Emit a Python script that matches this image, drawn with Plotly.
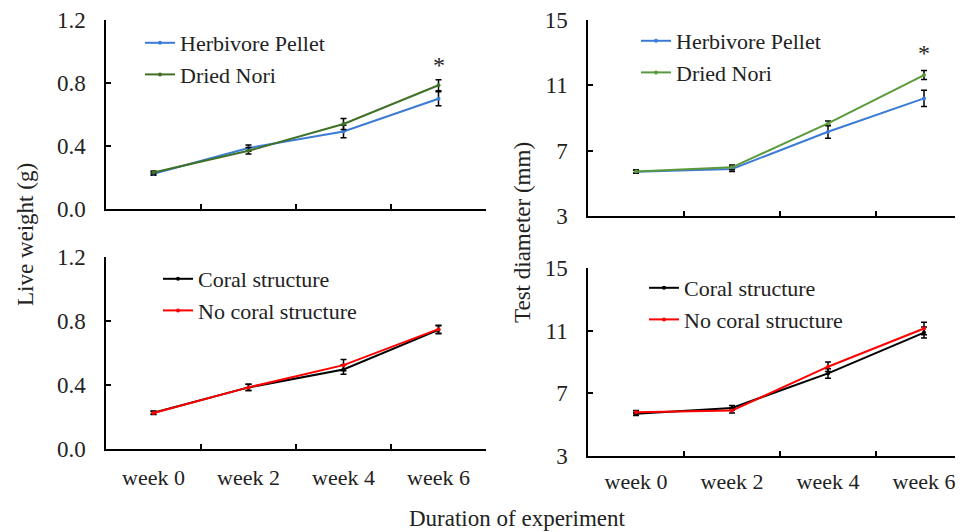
import plotly.graph_objects as go

weeks = ["week 0", "week 2", "week 4", "week 6"]

# Diet experiment - live weight (g)
lw_pellet = [0.224, 0.387, 0.492, 0.700]
lw_pellet_err = [0.010, 0.020, 0.040, 0.045]
lw_nori = [0.232, 0.370, 0.540, 0.786]
lw_nori_err = [0.010, 0.020, 0.035, 0.035]

# Diet experiment - test diameter (mm)
td_pellet = [5.71, 5.88, 8.16, 10.20]
td_pellet_err = [0.10, 0.15, 0.40, 0.50]
td_nori = [5.72, 5.98, 8.67, 11.63]
td_nori_err = [0.10, 0.15, 0.15, 0.28]

# Habitat experiment - live weight (g)
lw_coral = [0.227, 0.385, 0.497, 0.745]
lw_coral_err = [0.010, 0.020, 0.030, 0.025]
lw_nocoral = [0.225, 0.385, 0.524, 0.749]
lw_nocoral_err = [0.010, 0.020, 0.035, 0.025]

# Habitat experiment - test diameter (mm)
td_coral = [5.69, 6.07, 8.27, 10.88]
td_coral_err = [0.10, 0.15, 0.30, 0.35]
td_nocoral = [5.80, 5.90, 8.70, 11.14]
td_nocoral_err = [0.10, 0.15, 0.30, 0.40]

lw_ticks = [0.0, 0.4, 0.8, 1.2]
td_ticks = [3, 7, 11, 15]

FONT = "Liberation Serif"
BLUE = "#3b7bd6"
GREEN_L = "#3f7126"
GREEN_R = "#5b9a3c"
BLACK = "#000000"
RED = "#ff0000"

fig = go.Figure()

def add(y, err, name, color, xa, ya, legend):
    fig.add_trace(go.Scatter(
        x=weeks, y=y, name=name, mode="lines+markers",
        line=dict(color=color, width=2),
        marker=dict(color=color, size=4),
        error_y=dict(type="data", array=err, visible=True, color="black",
                     thickness=1.5, width=3),
        xaxis=xa, yaxis=ya, legend=legend,
    ))

add(lw_pellet, lw_pellet_err, "Herbivore Pellet", BLUE, "x", "y", "legend")
add(lw_nori, lw_nori_err, "Dried Nori", GREEN_L, "x", "y", "legend")
add(td_pellet, td_pellet_err, "Herbivore Pellet", BLUE, "x2", "y2", "legend2")
add(td_nori, td_nori_err, "Dried Nori", GREEN_R, "x2", "y2", "legend2")
add(lw_coral, lw_coral_err, "Coral structure", BLACK, "x3", "y3", "legend3")
add(lw_nocoral, lw_nocoral_err, "No coral structure", RED, "x3", "y3", "legend3")
add(td_coral, td_coral_err, "Coral structure", BLACK, "x4", "y4", "legend4")
add(td_nocoral, td_nocoral_err, "No coral structure", RED, "x4", "y4", "legend4")

OFF = 8  # page body margin
W, H = 963 - OFF, 532 - OFF
def px(x):
    return (x - OFF) / W
def py(y):
    return 1 - (y - OFF) / H

tickfont = dict(family=FONT, size=22, color="#222")
ytickfont = dict(family=FONT, size=23, color="#222")

def xaxis(dom, rng, labels, standoff=0):
    return dict(domain=dom, range=rng, type="category", showline=True,
                linecolor="black", linewidth=1.5, ticks="inside", ticklen=5,
                tickwidth=1.5, tickcolor="black", tickson="boundaries",
                showgrid=False, zeroline=False, showticklabels=labels,
                tickfont=tickfont, fixedrange=True, automargin=False,
                ticklabeloverflow="allow", ticklabelstandoff=standoff)

def yaxis(dom, rng, tv, fmt):
    return dict(domain=dom, range=rng, tickvals=tv, tickformat=fmt,
                showline=True, linecolor="black", linewidth=1.5,
                ticks="inside", ticklen=5, tickwidth=1.5, tickcolor="black",
                showgrid=False, zeroline=False, tickfont=ytickfont,
                ticklabelstandoff=14, automargin=False, ticklabeloverflow="allow")

legfont = dict(family=FONT, size=22, color="#222")
def legend(x, y):
    return dict(x=x, y=y, xanchor="left", yanchor="top", font=legfont,
                bgcolor="rgba(0,0,0,0)", itemwidth=30, tracegroupgap=0,
                traceorder="normal", itemclick=False)

def ann(text, x, y, size=23, angle=0):
    return dict(text=text, x=px(x), y=py(y), xref="paper", yref="paper",
                xanchor="center", yanchor="middle", textangle=angle,
                showarrow=False, font=dict(family=FONT, size=size, color="#222"))

fig.update_layout(
    width=W, height=H, margin=dict(l=0, r=0, t=0, b=0, pad=0, autoexpand=False),
    plot_bgcolor="white", paper_bgcolor="white", showlegend=True,
    font=dict(family=FONT, size=22, color="#222"),
    xaxis=xaxis([px(106), px(486)], [-0.5, 3.5], False),
    yaxis=yaxis([py(209), py(20)], [0, 1.2], lw_ticks, ".1f"),
    xaxis2=dict(xaxis([px(588), 1.0], [-0.5, 3.406], False), anchor="y2"),
    yaxis2=dict(yaxis([py(216), py(20)], [3, 15], td_ticks, "d"), anchor="x2"),
    xaxis3=dict(xaxis([px(106), px(486)], [-0.5, 3.5], True, 8), anchor="y3"),
    yaxis3=dict(yaxis([py(449), py(257)], [0, 1.2], lw_ticks, ".1f"), anchor="x3"),
    xaxis4=dict(xaxis([px(588), 1.0], [-0.5, 3.406], True, 5), anchor="y4"),
    yaxis4=dict(yaxis([py(456), py(268)], [3, 15], td_ticks, "d"), anchor="x4"),
    legend=legend(px(140), py(22)),
    legend2=legend(px(636), py(20)),
    legend3=legend(px(158), py(258)),
    legend4=legend(px(644), py(267)),
    annotations=[
        dict(text="*", x="week 6", y=0.915, xref="x", yref="y", showarrow=False,
             xanchor="center", yanchor="middle",
             font=dict(family=FONT, size=24, color="#222")),
        dict(text="*", x="week 6", y=12.97, xref="x2", yref="y2", showarrow=False,
             xanchor="center", yanchor="middle",
             font=dict(family=FONT, size=24, color="#222")),
        ann("Live weight (g)", 25, 235, angle=-90),
        ann("Test diameter (mm)", 522, 233, angle=-90),
        ann("Duration of experiment", 517, 518),
    ],
)

fig.write_html("out.html")
